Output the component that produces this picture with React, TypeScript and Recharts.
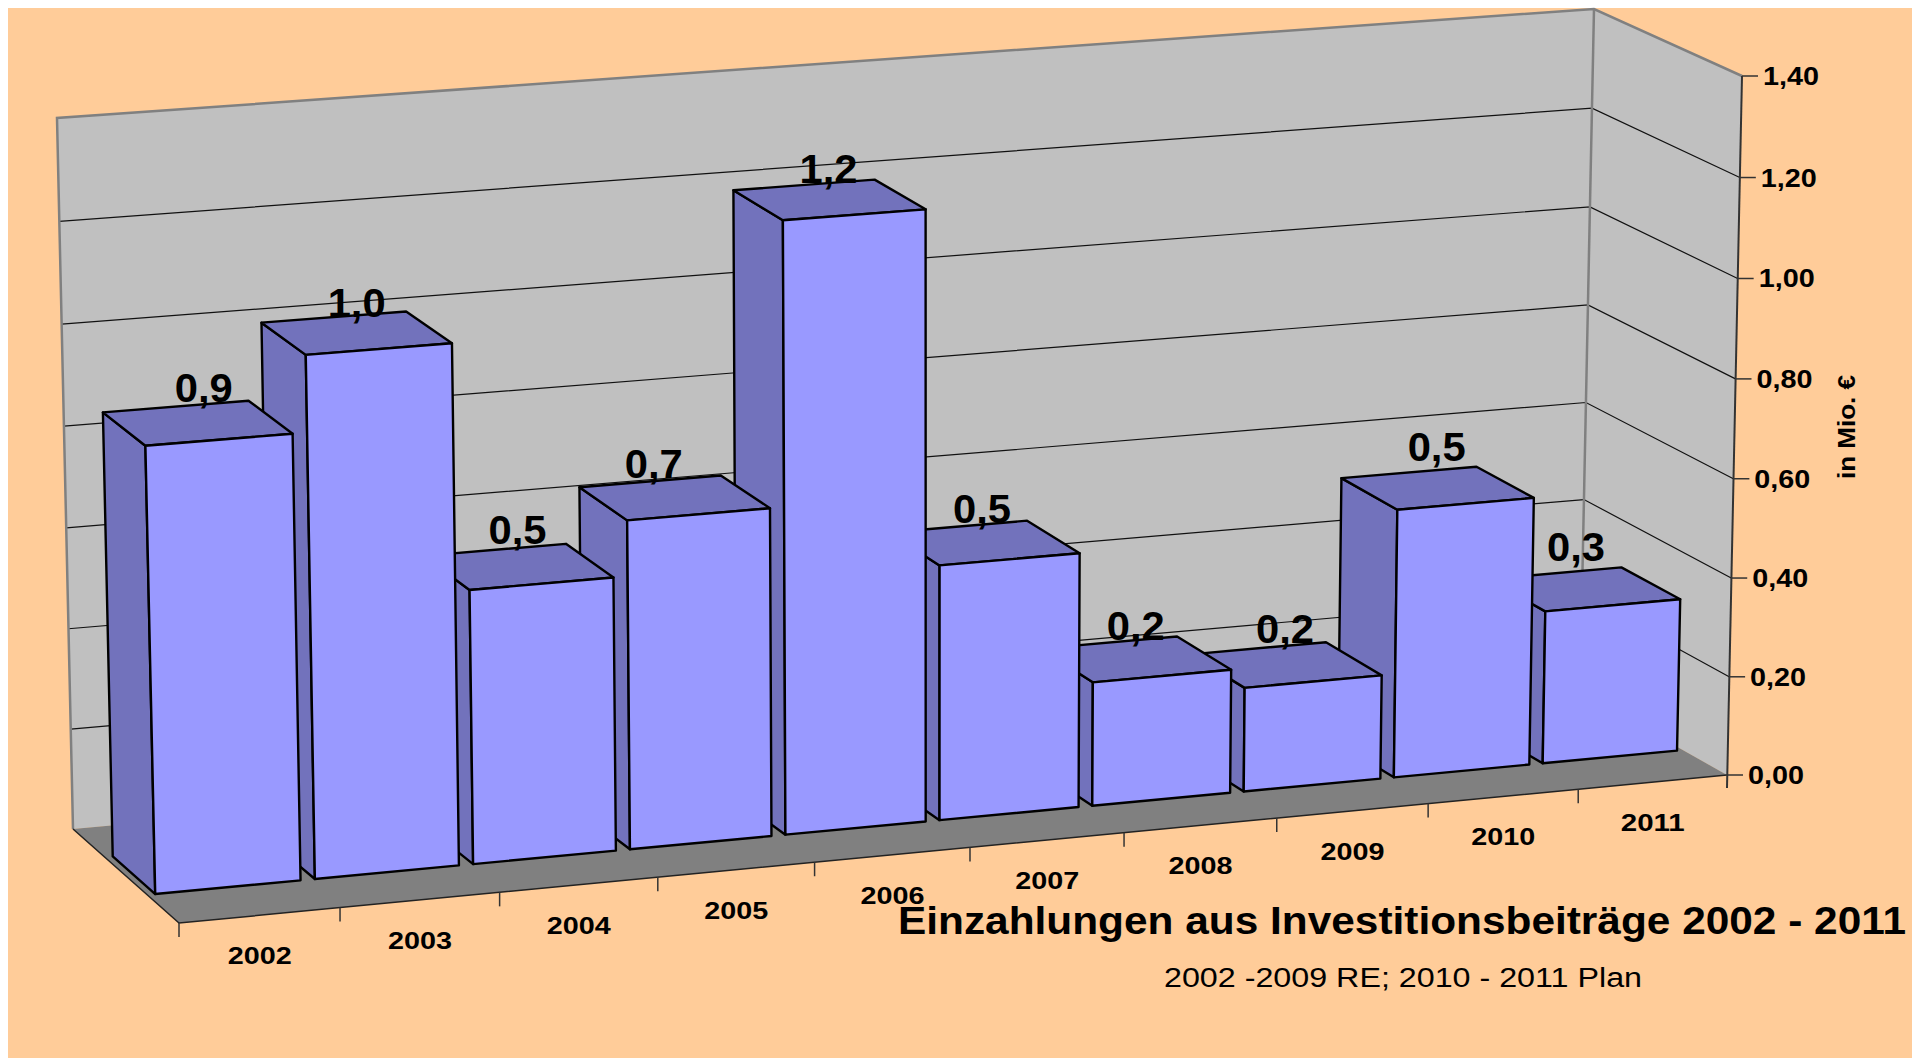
import { Bar, BarChart, LabelList, XAxis, YAxis } from 'recharts';

const categories = ['2002', '2003', '2004', '2005', '2006', '2007', '2008', '2009', '2010', '2011'];
const investments = [0.875, 1.025, 0.542, 0.652, 1.213, 0.51, 0.249, 0.21, 0.542, 0.31];
const yTicks = [0, 0.2, 0.4, 0.6, 0.8, 1, 1.2, 1.4];
const Y_MAX = 1.4;

// painted right to left, the left bars sit in front of their neighbours
const chartData = categories.map((year, i) => ({ year, value: investments[i] })).reverse();

// hand placed data labels in the original, [dx, dy] per year
const labelNudges = [[7, 5], [1, 10], [0, 3], [-20, 6], [0, 9], [-1, 6], [1, 7], [0, 4], [0, -1], [-7, -2]];

const FONT = '"Liberation Sans", Arial, sans-serif';
const BG = '#FFCC99';
const WALL = '#C0C0C0';
const FLOOR = '#808080';
const BAR_FRONT = '#9999FF';
const BAR_SIDE = '#7272BC';

const PLOT = { left: 100, top: 100, width: 1000, height: 700 };

type Pt = [number, number];
type Quad = { bl: Pt; br: Pt; tr: Pt; tl: Pt };

const FRONT: Quad = { bl: [179, 923], br: [1727, 775], tr: [1742, 76], tl: [163, 195] };
const BACK: Quad = { bl: [73, 829], br: [1580, 692], tr: [1594, 9], tl: [57, 118] };
const BAR_DEPTH_FRONT = 0.3;
const BAR_DEPTH_BACK = 0.7;
const BAR_SHIFT = 0.0005;

function homography(q: Quad) {
  const [x0, y0] = q.bl;
  const [x1, y1] = q.br;
  const [x2, y2] = q.tr;
  const [x3, y3] = q.tl;
  const dx1 = x1 - x2;
  const dx2 = x3 - x2;
  const sx = x0 - x1 + x2 - x3;
  const dy1 = y1 - y2;
  const dy2 = y3 - y2;
  const sy = y0 - y1 + y2 - y3;
  const den = dx1 * dy2 - dx2 * dy1;
  const g = (sx * dy2 - dx2 * sy) / den;
  const h = (dx1 * sy - sx * dy1) / den;
  const a = x1 - x0 + g * x1;
  const b = x3 - x0 + h * x3;
  const d = y1 - y0 + g * y1;
  const e = y3 - y0 + h * y3;
  return (u: number, v: number): Pt => {
    const w = g * u + h * v + 1;
    return [(a * u + b * v + x0) / w, (d * u + e * v + y0) / w];
  };
}

const frontPlane = homography(FRONT);
const backPlane = homography(BACK);

// u along the categories, v up the value axis, depth from front (0) to back wall (1)
function project(u: number, v: number, depth: number): Pt {
  const f = frontPlane(u, v);
  const b = backPlane(u, v);
  return [f[0] + (b[0] - f[0]) * depth, f[1] + (b[1] - f[1]) * depth];
}

const toU = (x: number) => (x - PLOT.left) / PLOT.width;
const toV = (y: number) => (PLOT.top + PLOT.height - y) / PLOT.height;
const pts = (list: Pt[]) => list.map((p) => `${p[0]},${p[1]}`).join(' ');

function Walls() {
  return (
    <g>
      <polygon points={pts([project(0, 0, 1), project(1, 0, 1), project(1, 1, 1), project(0, 1, 1)])} fill={WALL} />
      <polygon points={pts([project(1, 0, 1), project(1, 0, 0), project(1, 1, 0), project(1, 1, 1)])} fill={WALL} />
      <polygon points={pts([project(0, 0, 0), project(1, 0, 0), project(1, 0, 1), project(0, 0, 1)])} fill={FLOOR} />
      {yTicks.slice(1, -1).map((t) => {
        const v = t / Y_MAX;
        return (
          <polyline
            key={t}
            points={pts([project(0, v, 1), project(1, v, 1), project(1, v, 0)])}
            fill="none"
            stroke="#111"
            strokeWidth={1.2}
          />
        );
      })}
      <polyline
        points={pts([project(0, 0, 1), project(0, 1, 1), project(1, 1, 1), project(1, 1, 0)])}
        fill="none"
        stroke={FLOOR}
        strokeWidth={2.5}
      />
      <line x1={project(1, 0, 1)[0]} y1={project(1, 0, 1)[1]} x2={project(1, 1, 1)[0]} y2={project(1, 1, 1)[1]} stroke={FLOOR} strokeWidth={2.5} />
      <polyline points={pts([project(0, 0, 1), project(0, 0, 0), project(1, 0, 0)])} fill="none" stroke="#222" strokeWidth={1.5} />
      <line x1={project(1, 1, 0)[0]} y1={project(1, 1, 0)[1]} x2={project(1, 0, 0)[0]} y2={project(1, 0, 0)[1] + 13} stroke="#333" strokeWidth={2} />
    </g>
  );
}

function Bar3D(props: any) {
  const { x, y, width, height } = props;
  const u0 = toU(x) + BAR_SHIFT;
  const u1 = toU(x + width) + BAR_SHIFT;
  const v = toV(y);
  const vBase = toV(y + height);
  const common = { stroke: '#000', strokeWidth: 2.4, strokeLinejoin: 'round' as const };
  return (
    <g>
      <polygon
        points={pts([
          project(u0, vBase, BAR_DEPTH_FRONT),
          project(u0, vBase, BAR_DEPTH_BACK),
          project(u0, v, BAR_DEPTH_BACK),
          project(u0, v, BAR_DEPTH_FRONT),
        ])}
        fill={BAR_SIDE}
        {...common}
      />
      <polygon
        points={pts([
          project(u0, v, BAR_DEPTH_FRONT),
          project(u0, v, BAR_DEPTH_BACK),
          project(u1, v, BAR_DEPTH_BACK),
          project(u1, v, BAR_DEPTH_FRONT),
        ])}
        fill={BAR_SIDE}
        {...common}
      />
      <polygon
        points={pts([
          project(u0, vBase, BAR_DEPTH_FRONT),
          project(u1, vBase, BAR_DEPTH_FRONT),
          project(u1, v, BAR_DEPTH_FRONT),
          project(u0, v, BAR_DEPTH_FRONT),
        ])}
        fill={BAR_FRONT}
        {...common}
      />
    </g>
  );
}

function ValueLabel(props: any) {
  const { x, y, width, value, index } = props;
  const [px, py] = project(toU(x + width / 2), toV(y), 0.5);
  const [dx, dy] = labelNudges[categories.length - 1 - index];
  return (
    <text
      x={px + dx}
      y={py - 26 + dy}
      textAnchor="middle"
      fontFamily={FONT}
      fontWeight="bold"
      fontSize={40}
      textLength={58}
      lengthAdjust="spacingAndGlyphs"
      fill="#000"
    >
      {Number(value).toFixed(1).replace('.', ',')}
    </text>
  );
}

function YearTick(props: any) {
  const { x, payload } = props;
  const u = toU(x);
  const half = 1 / categories.length / 2;
  const [lx, ly] = project(u, 0, 0);
  const [mx, my] = project(u - half, 0, 0);
  return (
    <g>
      <line x1={mx} y1={my} x2={mx} y2={my + 14} stroke="#333" strokeWidth={1.5} />
      <text
        x={lx}
        y={ly + 49}
        textAnchor="middle"
        fontFamily={FONT}
        fontWeight="bold"
        fontSize={24}
        textLength={64}
        lengthAdjust="spacingAndGlyphs"
        fill="#000"
      >
        {payload.value}
      </text>
    </g>
  );
}

function ValueTick(props: any) {
  const { y, payload } = props;
  const [px, py] = project(1, toV(y), 0);
  return (
    <g>
      <line x1={px} y1={py} x2={px + 16} y2={py} stroke="#333" strokeWidth={1.5} />
      <text
        x={px + 21}
        y={py + 9}
        fontFamily={FONT}
        fontWeight="bold"
        fontSize={26}
        textLength={56}
        lengthAdjust="spacingAndGlyphs"
        fill="#000"
      >
        {Number(payload.value).toFixed(2).replace('.', ',')}
      </text>
    </g>
  );
}

export default function App() {
  return (
    <div style={{ position: 'absolute', left: 0, top: 0, width: 1912, height: 1058, overflow: 'hidden' }}>
      <div style={{ position: 'absolute', left: 8, top: 8, width: 1904, height: 1050, background: BG }} />
      <div style={{ position: 'absolute', left: 0, top: 0 }}>
        <BarChart
          width={1912}
          height={1058}
          data={chartData}
          margin={{ top: PLOT.top, left: 40, right: 812, bottom: 228 }}
          barCategoryGap="4.5%"
        >
          <Walls />
          <XAxis dataKey="year" reversed height={30} interval={0} axisLine={false} tickLine={false} tick={YearTick} />
          <YAxis width={60} domain={[0, Y_MAX]} ticks={yTicks} axisLine={false} tickLine={false} tick={ValueTick} />
          <Bar dataKey="value" shape={Bar3D} isAnimationActive={false}>
            <LabelList dataKey="value" content={ValueLabel} />
          </Bar>
          <text
            x={898}
            y={934}
            fontFamily={FONT}
            fontWeight="bold"
            fontSize={38}
            textLength={1008}
            lengthAdjust="spacingAndGlyphs"
            fill="#000"
          >
            Einzahlungen aus Investitionsbeiträge 2002 - 2011
          </text>
          <text
            x={1164}
            y={987}
            fontFamily={FONT}
            fontSize={27}
            textLength={478}
            lengthAdjust="spacingAndGlyphs"
            fill="#000"
          >
            2002 -2009 RE; 2010 - 2011 Plan
          </text>
          <text
            transform="translate(1855 427) rotate(-90)"
            textAnchor="middle"
            fontFamily={FONT}
            fontWeight="bold"
            fontSize={23}
            textLength={104}
            lengthAdjust="spacingAndGlyphs"
            fill="#000"
          >
            in Mio. €
          </text>
        </BarChart>
      </div>
    </div>
  );
}
